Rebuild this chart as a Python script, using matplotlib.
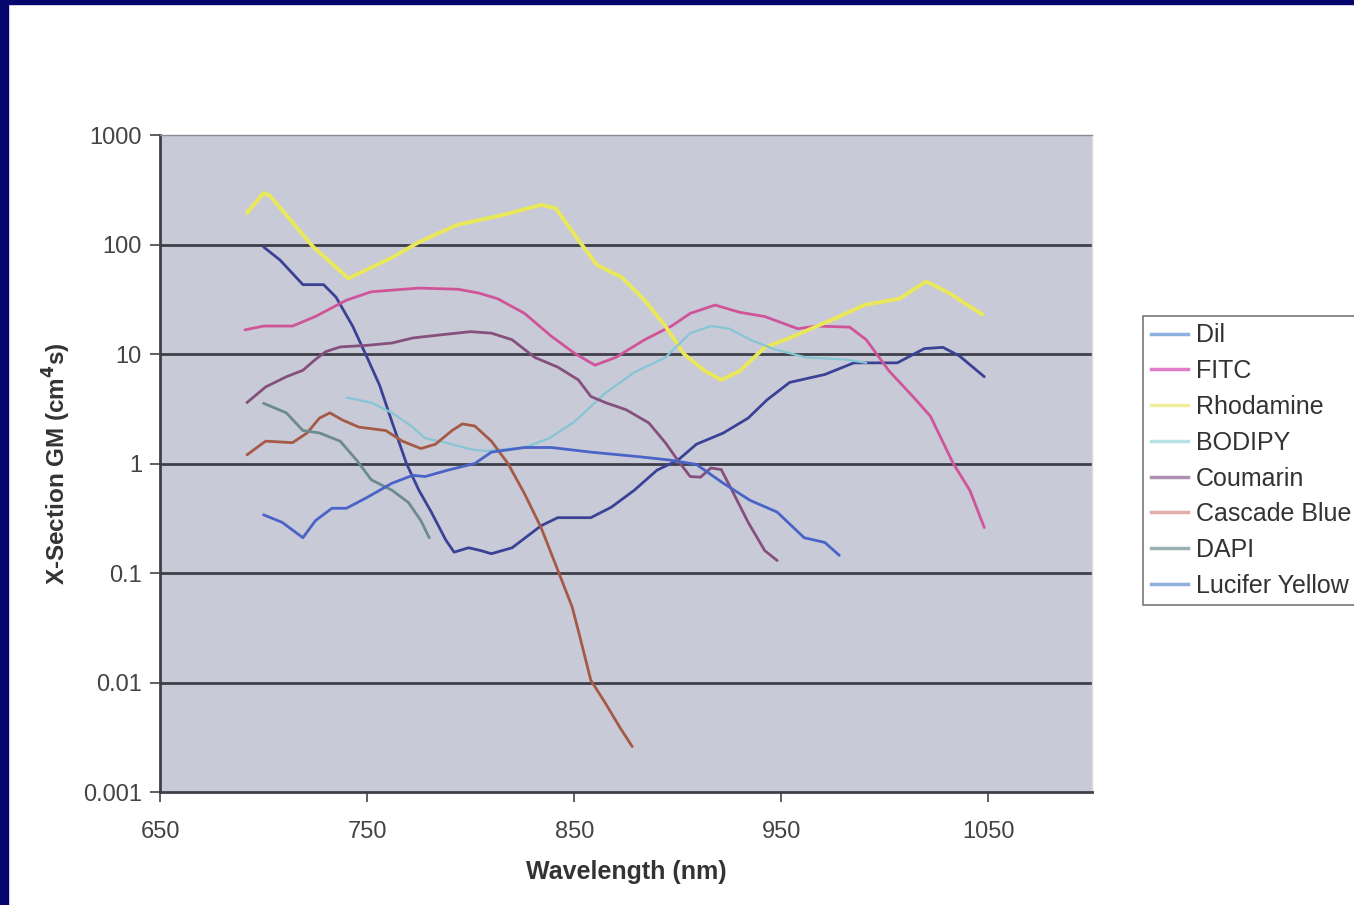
import matplotlib
matplotlib.use("Agg")
import matplotlib.pyplot as plt
from matplotlib.patches import Rectangle

plt.rcParams['font.family'] = ['Liberation Sans', 'DejaVu Sans']

# ---- data (wavelength nm, cross-section GM) ----
dil_x = [700, 708, 719, 729, 735, 743, 750, 756, 762, 769, 775, 781, 788, 792, 799, 805, 810, 820, 834, 842, 858, 868, 879, 890, 900, 909, 922, 934, 943, 954, 971, 985, 1006, 1019, 1028, 1036, 1048]
dil_y = [95, 72, 43, 43, 33, 18, 9.3, 5.2, 2.4, 1.0, 0.57, 0.36, 0.2, 0.155, 0.17, 0.16, 0.15, 0.17, 0.27, 0.32, 0.32, 0.40, 0.57, 0.87, 1.07, 1.5, 1.9, 2.6, 3.8, 5.5, 6.5, 8.3, 8.3, 11.2, 11.5, 9.6, 6.2]

fitc_x = [691, 700, 714, 725, 740, 752, 775, 794, 804, 813, 826, 839, 850, 860, 870, 884, 897, 906, 918, 930, 942, 958, 967, 983, 991, 1002, 1014, 1022, 1033, 1041, 1048]
fitc_y = [16.6, 18, 18, 22, 31, 37, 40, 39, 36, 32, 23.5, 14.5, 10.2, 7.9, 9.3, 13.5, 18, 23.5, 28, 24, 22, 17, 18, 17.6, 13.5, 7, 4, 2.7, 1.0, 0.57, 0.26]

rhod_x = [692, 700, 703, 724, 741, 762, 775, 793, 804, 815, 834, 841, 852, 861, 873, 884, 894, 903, 913, 921, 930, 942, 954, 978, 990, 1007, 1020, 1031, 1047]
rhod_y = [194, 295, 280, 95, 49, 76, 105, 150, 167, 185, 230, 215, 110, 65, 50, 31, 18, 10, 7, 5.8, 7, 11.5, 14, 22, 28, 32, 46, 36, 23]

bod_x = [740, 752, 762, 772, 778, 788, 800, 807, 826, 838, 850, 865, 879, 894, 906, 916, 925, 935, 947, 962, 981, 991]
bod_y = [4.0, 3.6, 2.9, 2.15, 1.7, 1.55, 1.35, 1.3, 1.4, 1.7, 2.4, 4.4, 6.8, 9.3, 15.5, 18, 17, 13.5, 11, 9.3, 8.9, 8.3]

cou_x = [692, 701, 711, 719, 725, 730, 737, 750, 762, 772, 786, 800, 810, 820, 831, 842, 852, 858, 865, 875, 886, 894, 900, 906, 911, 916, 921, 927, 934, 942, 948]
cou_y = [3.6, 5, 6.2, 7.1, 8.9, 10.5, 11.6, 12, 12.6, 14, 15, 16, 15.5, 13.5, 9.3, 7.6, 5.8, 4.1, 3.6, 3.1, 2.35, 1.55, 1.07, 0.76, 0.75, 0.91, 0.88, 0.53, 0.29, 0.16, 0.13]

casc_x = [692, 701, 714, 721, 727, 732, 738, 746, 759, 767, 776, 783, 791, 796, 802, 810, 818, 826, 834, 842, 849, 853, 858, 865, 872, 878]
casc_y = [1.2, 1.6, 1.55, 1.9, 2.6, 2.9, 2.5, 2.15, 2.0, 1.6, 1.37, 1.5, 2.0, 2.3, 2.2, 1.6, 1.0, 0.53, 0.26, 0.107, 0.049, 0.025, 0.0105, 0.0065, 0.0039, 0.0026]

dapi_x = [700, 711, 719, 727, 737, 745, 752, 762, 770, 776, 780]
dapi_y = [3.55, 2.9, 2.0, 1.9, 1.6, 1.07, 0.71, 0.57, 0.44, 0.30, 0.21]

ly_x = [700, 709, 719, 725, 733, 740, 750, 762, 772, 778, 789, 802, 810, 826, 839, 858, 882, 897, 909, 922, 935, 948, 961, 971, 978]
ly_y = [0.34, 0.29, 0.21, 0.30, 0.39, 0.39, 0.49, 0.66, 0.78, 0.76, 0.87, 1.0, 1.27, 1.4, 1.4, 1.27, 1.15, 1.07, 0.98, 0.66, 0.46, 0.36, 0.21, 0.19, 0.145]

series = [
    ("DiI", dil_x, dil_y, "#3b4296", 2.0),
    ("FITC", fitc_x, fitc_y, "#d0549a", 2.0),
    ("Rhodamine", rhod_x, rhod_y, "#e9e85a", 2.8),
    ("BODIPY", bod_x, bod_y, "#86c6d4", 1.6),
    ("Coumarin", cou_x, cou_y, "#86507e", 2.0),
    ("Cascade Blue", casc_x, casc_y, "#a55a46", 2.0),
    ("DAPI", dapi_x, dapi_y, "#6d8b8e", 2.0),
    ("Lucifer Yellow", ly_x, ly_y, "#4a63c6", 2.0),
]
legend_labels = ["Dil", "FITC", "Rhodamine", "BODIPY", "Coumarin", "Cascade Blue", "DAPI", "Lucifer Yellow"]
legend_colors = ["#8fb0de", "#e07cc8", "#f0ee9a", "#b8e0e6", "#b08fb0", "#e0b0a8", "#9ab0b4", "#8fb0de"]

xticks = [650, 750, 850, 950, 1050]
yticks = [0.001, 0.01, 0.1, 1, 10, 100, 1000]
ytick_labels = ["0.001", "0.01", "0.1", "1", "10", "100", "1000"]

fig = plt.figure(figsize=(13.54, 9.05), dpi=100)
fig.patch.set_facecolor("white")
ax = fig.add_axes([160/1354, 1-792/905, (1092-160)/1354, (792-135)/905])
ax.set_facecolor("#c8cad7")

for name, xs, ys, col, lw in series:
    ax.plot(xs, ys, color=col, lw=lw, solid_capstyle="round", solid_joinstyle="round", zorder=3)

ax.set_yscale("log")
ax.set_xlim(650, 1100)
ax.set_ylim(0.001, 1000)
ax.set_xticks(xticks)
ax.set_xticklabels([str(t) for t in xticks])
ax.set_yticks(yticks)
ax.set_yticklabels(ytick_labels)
ax.yaxis.set_minor_locator(matplotlib.ticker.NullLocator())
for yv in [0.01, 0.1, 1, 10, 100]:
    ax.axhline(yv, color="#3e3f48", lw=2.0, zorder=2)

ax.tick_params(axis="both", labelsize=17, colors="#444444", length=7, width=1.2, direction="out")
ax.tick_params(axis="x", pad=14)
ax.tick_params(axis="y", pad=6)
for s in ["left", "bottom"]:
    ax.spines[s].set_color("#3e3f48")
    ax.spines[s].set_linewidth(2.0)
ax.spines["top"].set_color("#8a8c96")
ax.spines["top"].set_linewidth(1.0)
ax.spines["right"].set_color("#d8dae2")
ax.spines["right"].set_linewidth(1.0)

ax.set_xlabel("Wavelength (nm)", fontsize=18, fontweight="bold", color="#333333", labelpad=12)
ax.set_ylabel("X-Section GM (cm$^\\mathbf{4}$s)", fontsize=17.5, fontweight="bold", color="#333333", labelpad=7)

handles = [plt.Line2D([], [], color=c, lw=2.5) for c in legend_colors]
leg = fig.legend(handles, legend_labels, loc="upper left", bbox_to_anchor=(1143/1354, 1-316/905),
                 bbox_transform=fig.transFigure, borderaxespad=0, fontsize=18, frameon=True,
                 fancybox=False, edgecolor="#555555", handlelength=1.5, handletextpad=0.3,
                 labelspacing=0.47, borderpad=0.3, labelcolor="#333333")
leg.get_frame().set_linewidth(1.2)

# navy slide border
fig.patches.append(Rectangle((0, 0), 8/1354, 1, transform=fig.transFigure, color="#06066e", zorder=10))
fig.patches.append(Rectangle((0, 1-4/905), 1, 4/905, transform=fig.transFigure, color="#06066e", zorder=10))

fig.savefig("out.png", dpi=100)
